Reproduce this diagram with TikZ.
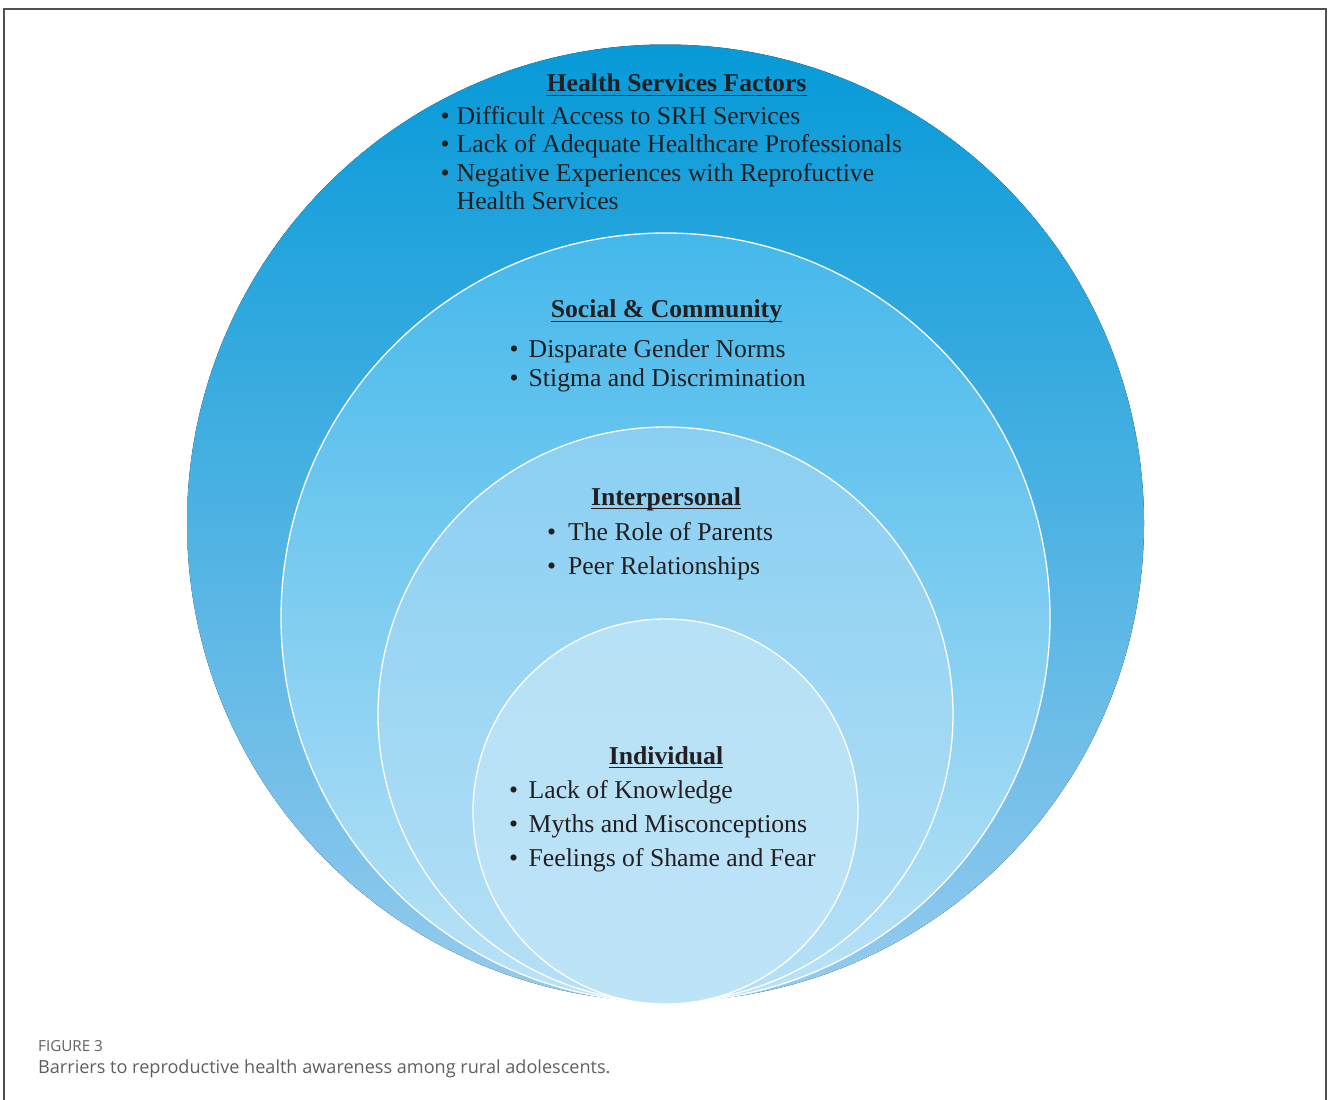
\documentclass[tikz,border=0pt]{standalone}
\usepackage{fontspec}
\setmainfont{Liberation Serif}
\newfontfamily\capfont{Open Sans}
\usetikzlibrary{positioning}

\definecolor{txt}{RGB}{35,31,32}
\definecolor{frame}{RGB}{80,80,80}
\definecolor{captxt}{RGB}{95,95,95}
\definecolor{outerTop}{RGB}{6,154,216}
\definecolor{outerBot}{RGB}{150,203,238}
\definecolor{socTop}{RGB}{68,184,235}
\definecolor{socBot}{RGB}{188,227,247}
\definecolor{intTop}{RGB}{138,207,242}
\definecolor{intBot}{RGB}{182,224,246}
\definecolor{indTop}{RGB}{183,225,246}
\definecolor{indBot}{RGB}{189,227,247}

\begin{document}
\begin{tikzpicture}[x=1pt, y=-1pt,
    heading/.style={inner sep=0pt, anchor=base, text=txt, font=\fontsize{25.7}{30}\selectfont\bfseries},
    item/.style={inner sep=0pt, anchor=base west, text=txt, font=\fontsize{25.7}{30}\selectfont},
    ring/.style={draw=white, line width=1.3pt}]
        \useasboundingbox (0,0) rectangle (1328,1100);

        % Draw the frame (open at the bottom)
        \draw [frame, line width=1.2pt] (4,1110) -- (4,9) -- (1326,9) -- (1326,1110);

        % Draw the circles, all touching at the bottom
        \fill [top color=outerTop, bottom color=outerBot] (665.5,523) circle [radius=478.5pt];
        \path [ring, top color=socTop, bottom color=socBot] (665.5,617.5) circle [radius=384.5pt];
        \path [ring, top color=intTop, bottom color=intBot] (665.5,714.5) circle [radius=287.5pt];
        \path [ring, top color=indTop, bottom color=indBot] (665.5,811.5) circle [radius=192.5pt];

        % Health services factors
        \node (hsf) [heading] at (676.5,91.7) {Health Services Factors};
        \node (hsf1) [item] at (440.5,124) {\textbullet\hspace{7pt}Difficult Access to SRH Services};
        \node (hsf2) [item] at (440.5,152.5) {\textbullet\hspace{7pt}Lack of Adequate Healthcare Professionals};
        \node (hsf3) [item] at (440.5,181) {\textbullet\hspace{7pt}Negative Experiences with Reprofuctive};
        \node (hsf4) [item] at (456.5,209.3) {Health Services};

        % Social & community
        \node (soc) [heading] at (666.5,317.7) {Social \& Community};
        \node (soc1) [item] at (509.5,357.3) {\textbullet\hspace{10pt}Disparate Gender Norms};
        \node (soc2) [item] at (509.5,386) {\textbullet\hspace{10pt}Stigma and Discrimination};

        % Interpersonal
        \node (int) [heading] at (666,505) {Interpersonal};
        \node (int1) [item] at (547,540) {\textbullet\hspace{12pt}The Role of Parents};
        \node (int2) [item] at (547,574) {\textbullet\hspace{12pt}Peer Relationships};

        % Individual
        \node (ind) [heading] at (666,764) {Individual};
        \node (ind1) [item] at (509,798.3) {\textbullet\hspace{10.5pt}Lack of Knowledge};
        \node (ind2) [item] at (509,832) {\textbullet\hspace{10.5pt}Myths and Misconceptions};
        \node (ind3) [item] at (509,866.5) {\textbullet\hspace{10.5pt}Feelings of Shame and Fear};

        % Underline the headings
        \draw [txt, line width=1pt] ([yshift=-3.5pt]hsf.base west) -- ([yshift=-3.5pt]hsf.base east);
        \draw [txt, line width=1pt] ([yshift=-3.5pt]soc.base west) -- ([yshift=-3.5pt]soc.base east);
        \draw [txt, line width=1pt] ([yshift=-3.5pt]int.base west) -- ([yshift=-3.5pt]int.base east);
        \draw [txt, line width=1pt] ([yshift=-3.5pt]ind.base west) -- ([yshift=-3.5pt]ind.base east);

        % Caption
        \node (fig) [inner sep=0pt, anchor=base west, text=captxt, font=\capfont\fontsize{15.2}{17}\selectfont] at (38,1051.7) {FIGURE 3};
        \node (cap) [inner sep=0pt, anchor=base west, text=captxt, font=\capfont\fontsize{18.1}{21}\selectfont] at (38,1073.3) {Barriers to reproductive health awareness among rural adolescents.};
\end{tikzpicture}
\end{document}
